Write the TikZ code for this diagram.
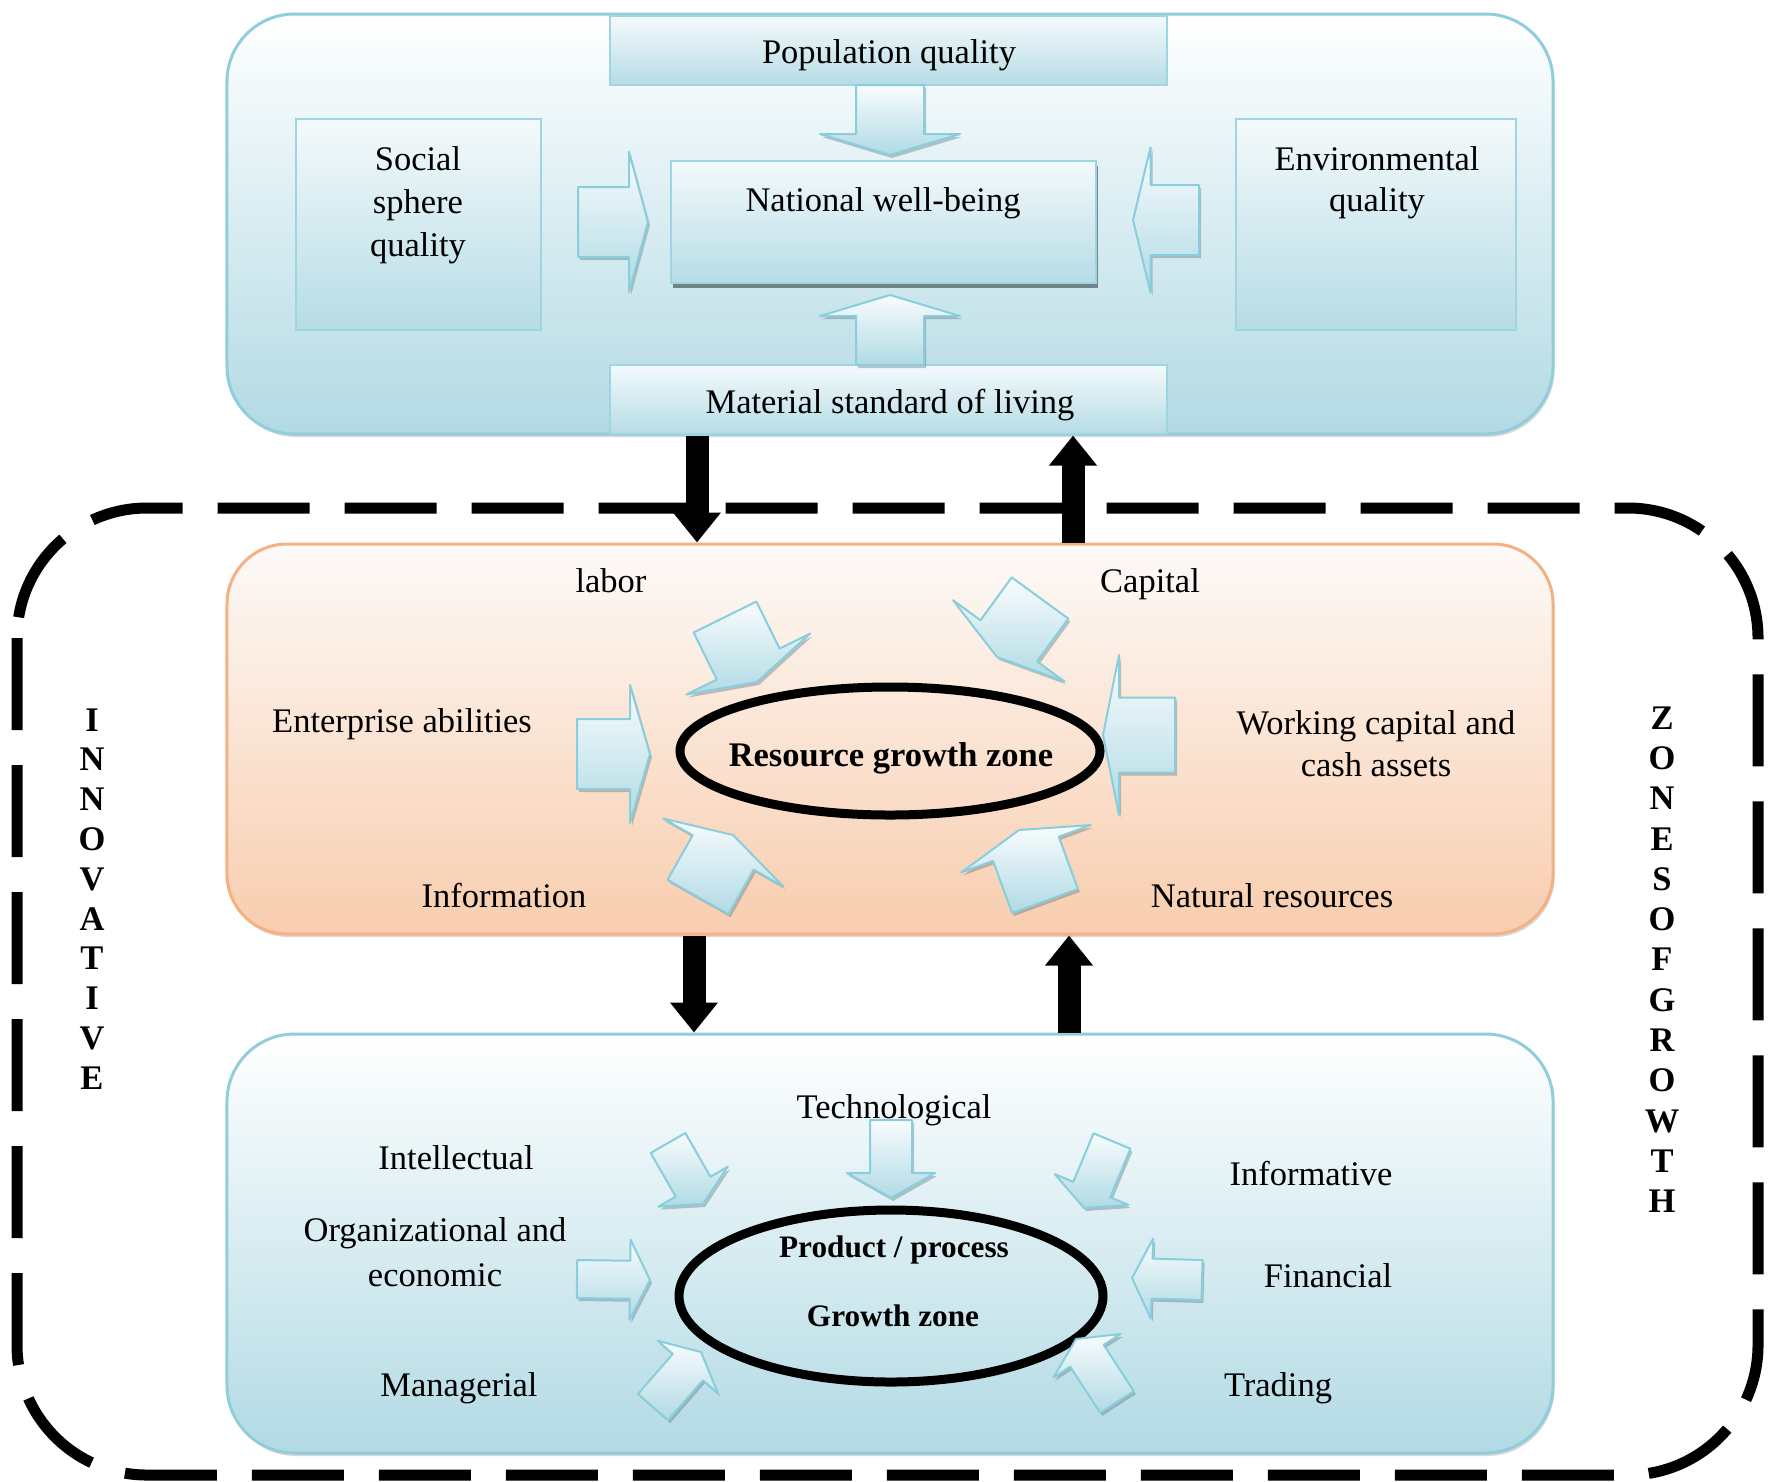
\documentclass[tikz,border=0pt]{standalone}
\usepackage{fontspec}
\setmainfont{Liberation Serif}
\usetikzlibrary{calc,shapes.geometric,arrows.meta,shadows}
\definecolor{bxblue}{HTML}{B2DAE4}
\definecolor{bxline}{HTML}{91CDDB}
\definecolor{sbline}{HTML}{9ED5E1}
\definecolor{sbbot}{HTML}{B6DCE6}
\definecolor{ortop}{HTML}{FDFAF8}
\definecolor{orbot}{HTML}{F8CDAE}
\definecolor{orline}{HTML}{F4B183}
\definecolor{arblue}{HTML}{B0DAE5}
\definecolor{arline}{HTML}{88CEDD}
\newcommand\fatarr[6]{%
  \coordinate (#6-b) at ($(#2)!#5!(#1)$);
  \path[fatarrow] ($(#1)!#3!90:(#2)$) -- ($(#6-b)!#3!-90:(#1)$) -- ($(#6-b)!#4!-90:(#1)$) -- (#2) -- ($(#6-b)!#4!90:(#1)$) -- ($(#6-b)!#3!90:(#1)$) -- ($(#1)!#3!-90:(#2)$) -- cycle;
}
\begin{document}
\begin{tikzpicture}[x=0.4pt,y=-0.4pt,
  bigblue/.style={draw=bxline, line width=1.2pt, rounded corners=27pt, top color=white, bottom color=bxblue, inner sep=0pt,
    drop shadow={shadow xshift=0.6pt, shadow yshift=-1.2pt, opacity=0.25, fill=black!60}},
  bigorange/.style={draw=orline, line width=1.2pt, rounded corners=24pt, top color=ortop, bottom color=orbot, inner sep=0pt,
    drop shadow={shadow xshift=0.6pt, shadow yshift=-1.2pt, opacity=0.25, fill=black!60}},
  smallbox/.style={draw=sbline, line width=1pt, top color=white!85!sbbot, bottom color=sbbot, inner sep=0pt},
  fatarrow/.style={draw=arline, line width=0.8pt, line join=round, top color=white!92!arblue, bottom color=arblue,
    drop shadow={shadow xshift=0.8pt, shadow yshift=-1.2pt, opacity=0.35, fill=black!55!arblue}},
  zone/.style={ellipse, draw=black, line width=3.6pt, inner sep=0pt},
  zonedash/.style={draw=black, line width=4.4pt, dash pattern=on 36.8pt off 14pt, rounded corners=52pt},
  blk/.style={line width=9.2pt, -{Triangle[width=18.4pt,length=12pt]}},
  lbl/.style={font=\fontsize{13.8pt}{17.2pt}\selectfont, inner sep=0pt, align=center},
  one/.style={lbl, text height=9.5pt, text depth=3pt},
  onebf/.style={one, font=\fontsize{13.8pt}{17.2pt}\selectfont\bfseries},
  smallbf/.style={inner sep=0pt, font=\fontsize{12.5pt}{15pt}\selectfont\bfseries, text height=8.6pt, text depth=2.75pt},
  vlet/.style={onebf}
]
\useasboundingbox (0,0) rectangle (1777,1481);
\fill[white] (0,0) rectangle (1777,1481);

% dashed frame of the innovative zones of growth
\draw[zonedash] (17,508) rectangle (1758,1475);
\foreach \ch [count=\i] in {I,N,N,O,V,A,T,I,V,E}
  \node[vlet] (inn\i) at (92,{723+39.8*(\i-1)}) {\ch};
\foreach \ch [count=\i] in {Z,O,N,E,S,O,F,G,R,O,W,T,H}
  \node[vlet] (zon\i) at (1662,{721+40.3*(\i-1)}) {\ch};

% three main blocks
\node[bigblue, minimum width=530.4pt, minimum height=168pt] (topbox) at (890,224) {};
\node[bigorange, minimum width=530.4pt, minimum height=156pt] (midbox) at (890,739) {};
\node[bigblue, minimum width=530.4pt, minimum height=167.6pt] (botbox) at (890,1243.5) {};

% top block inner boxes
\node[smallbox, minimum width=222.8pt, minimum height=27.6pt] (popbox) at (888.5,50.5) {};
\node[smallbox, minimum width=222.8pt, minimum height=27.6pt] (matbox) at (888.5,399.5) {};
\node[smallbox, minimum width=170pt, minimum height=48.8pt,
  drop shadow={shadow xshift=0.8pt, shadow yshift=-2pt, opacity=0.75, fill=black!55!bxblue}] (natbox) at (883.5,222) {};
\node[smallbox, minimum width=98pt, minimum height=84.4pt] (socbox) at (418.5,224.5) {};
\node[smallbox, minimum width=112pt, minimum height=84.4pt] (envbox) at (1376,224.5) {};

\node[one] (poptext) at (889,55) {Population quality};
\node[one] (mattext) at (890,405) {Material standard of living};
\node[one] (nattext) at (883,203) {National well-being};
\node[lbl] (soctext) at (418,205) {Social\\sphere\\quality};
\node[lbl, font=\fontsize{13.8pt}{16.4pt}\selectfont] (envtext) at (1377,183) {Environmental\\quality};

% top block fat arrows
\coordinate (a1t) at (890,85);   \coordinate (a1h) at (890,155);
\coordinate (a2t) at (890,365);  \coordinate (a2h) at (890,295);
\coordinate (a3t) at (578,222);  \coordinate (a3h) at (648,222);
\coordinate (a4t) at (1199,220); \coordinate (a4h) at (1133,220);
\fatarr{a1t}{a1h}{13.6pt}{28pt}{8.4pt}{a1}
\fatarr{a2t}{a2h}{13.6pt}{28pt}{8.4pt}{a2}
\fatarr{a3t}{a3h}{14pt}{28pt}{7.6pt}{a3}
\fatarr{a4t}{a4h}{14pt}{29pt}{7pt}{a4}

% resource growth zone
\node[zone, minimum width=168pt, minimum height=51.2pt] (rgz) at (890,751) {};
\node[onebf] (rgztext) at (891,758) {Resource growth zone};
\node[one] (labor) at (611,584) {labor};
\node[one] (capital) at (1150,584) {Capital};
\node[one] (enterprise) at (402,724) {Enterprise abilities};
\node[lbl, font=\fontsize{13.8pt}{16.8pt}\selectfont] (working) at (1376,744) {Working capital and\\cash assets};
\node[one] (information) at (504,899) {Information};
\node[one] (natural) at (1272,899) {Natural resources};

\coordinate (b1t) at (725,617);  \coordinate (b1h) at (757,682);
\coordinate (b2t) at (577,754);  \coordinate (b2h) at (650,754);
\coordinate (b3t) at (698,897);  \coordinate (b3h) at (733,835);
\coordinate (b4t) at (1040,598); \coordinate (b4h) at (997,657);
\coordinate (b5t) at (1175,735); \coordinate (b5h) at (1103,735);
\coordinate (b6t) at (1045,901); \coordinate (b6h) at (1019,830);
\fatarr{b1t}{b1h}{14pt}{27.6pt}{8pt}{b1}
\fatarr{b2t}{b2h}{14pt}{27.6pt}{8pt}{b2}
\fatarr{b3t}{b3h}{14pt}{27.6pt}{8pt}{b3}
\fatarr{b4t}{b4h}{14pt}{27.6pt}{8pt}{b4}
\fatarr{b5t}{b5h}{15pt}{32pt}{6.4pt}{b5}
\fatarr{b6t}{b6h}{14pt}{27.6pt}{8pt}{b6}

% product / process growth zone
\node[zone, minimum width=169.6pt, minimum height=68.8pt] (pgz) at (891,1296) {};
\node[smallbf] (pgztext1) at (894,1250) {Product / process};
\node[smallbf] (pgztext2) at (893,1319) {Growth zone};
\node[one] (techno) at (894,1110) {Technological};
\node[one] (intell) at (456,1161) {Intellectual};
\node[one] (inform) at (1311,1177) {Informative};
\node[lbl, font=\fontsize{13.8pt}{18pt}\selectfont] (orgeco) at (435,1252) {Organizational and\\economic};
\node[one] (financ) at (1328,1279) {Financial};
\node[one] (manag) at (459,1388) {Managerial};
\node[one] (trad) at (1278,1388) {Trading};

\coordinate (c1t) at (668,1143);  \coordinate (c1h) at (703,1204);
\coordinate (c2t) at (891,1120);  \coordinate (c2h) at (891,1198);
\coordinate (c3t) at (1112,1141); \coordinate (c3h) at (1084,1208);
\coordinate (c4t) at (577,1279);  \coordinate (c4h) at (650,1280);
\coordinate (c5t) at (1202,1280); \coordinate (c5h) at (1132,1278);
\coordinate (c6t) at (653,1407);  \coordinate (c6h) at (701,1352);
\coordinate (c7t) at (1117,1402); \coordinate (c7h) at (1076,1339);
\fatarr{c1t}{c1h}{8pt}{16pt}{8pt}{c1}
\fatarr{c2t}{c2h}{8.4pt}{17.6pt}{10pt}{c2}
\fatarr{c3t}{c3h}{8pt}{16pt}{8pt}{c3}
\fatarr{c4t}{c4h}{7.6pt}{16pt}{8pt}{c4}
\fatarr{c5t}{c5h}{8pt}{16pt}{8pt}{c5}
\fatarr{c6t}{c6h}{8pt}{16pt}{8pt}{c6}
\fatarr{c7t}{c7h}{8pt}{16pt}{8pt}{c7}

% black connectors between the blocks
\coordinate (k1) at (697,0);
\coordinate (k2) at (1073,0);
\coordinate (k3) at (694,0);
\coordinate (k4) at (1069,0);
\draw[blk] (topbox.south -| k1) -- (midbox.north -| k1);
\draw[blk] (midbox.north -| k2) -- (topbox.south -| k2);
\draw[blk] (midbox.south -| k3) -- (botbox.north -| k3);
\draw[blk] (botbox.north -| k4) -- (midbox.south -| k4);
\end{tikzpicture}
\end{document}
